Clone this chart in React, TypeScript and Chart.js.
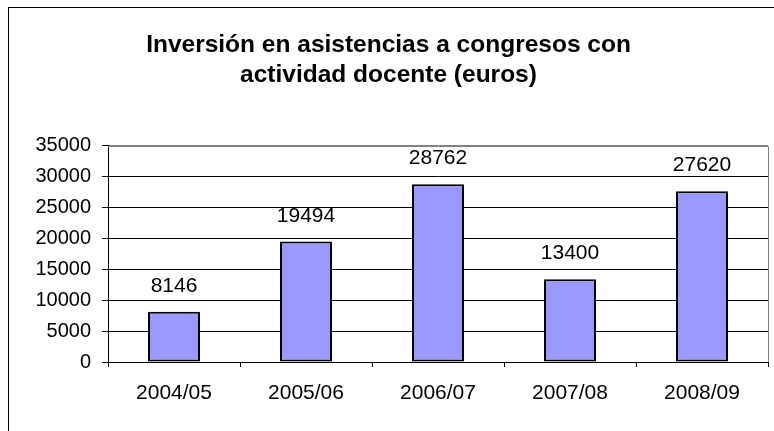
import React, { useEffect, useRef } from "react";
import { Chart, registerables } from "chart.js";

Chart.register(...registerables);

const categories = ["2004/05", "2005/06", "2006/07", "2007/08", "2008/09"];
const values = [8146, 19494, 28762, 13400, 27620];
const titleLines = ["Inversión en asistencias a congresos con", "actividad docente (euros)"];
const yMin = 0;
const yMax = 35000;
const yStep = 5000;

const FONT = "'Liberation Sans', Arial, Helvetica, sans-serif";

const frameAndLabels = {
  id: "frameAndLabels",
  afterDraw(chart: any) {
    const { ctx, width, height } = chart;
    ctx.save();
    ctx.fillStyle = "#000";
    ctx.fillRect(0, 0, 1, height);
    ctx.fillRect(0, 0, width, 1);
    ctx.restore();
  },
  afterDatasetsDraw(chart: any) {
    const { ctx, chartArea } = chart;
    ctx.save();
    ctx.strokeStyle = "#808080";
    ctx.lineWidth = 1;
    ctx.beginPath();
    ctx.moveTo(chartArea.left, Math.round(chartArea.top) + 0.5);
    ctx.lineTo(Math.round(chartArea.right) + 0.5, Math.round(chartArea.top) + 0.5);
    ctx.lineTo(Math.round(chartArea.right) + 0.5, chartArea.bottom);
    ctx.stroke();
    const meta = chart.getDatasetMeta(0);
    ctx.fillStyle = "#000";
    ctx.font = `21px ${FONT}`;
    ctx.textAlign = "center";
    ctx.textBaseline = "alphabetic";
    meta.data.forEach((bar: any, i: number) => {
      const v = chart.data.datasets[0].data[i];
      ctx.fillText(String(v), bar.x, bar.y - 20);
    });
    ctx.restore();
  },
};

export default function App() {
  const ref = useRef<HTMLCanvasElement>(null);
  useEffect(() => {
    if (!ref.current) return;
    const chart = new Chart(ref.current, {
      type: "bar",
      data: {
        labels: categories,
        datasets: [
          {
            data: values,
            backgroundColor: "#9999FF",
            borderColor: "#000000",
            borderWidth: 2,
            borderSkipped: false,
            barPercentage: 0.394,
            categoryPercentage: 1,
          },
        ],
      },
      options: {
        responsive: false,
        animation: false,
        devicePixelRatio: 1,
        layout: { padding: { left: 1, right: 6, top: 1, bottom: 0 } },
        plugins: {
          legend: { display: false },
          tooltip: { enabled: false },
          title: {
            display: true,
            text: titleLines,
            color: "#000",
            font: { family: FONT, size: 24.5, weight: "bold", lineHeight: 1.22 },
            padding: { top: 22, bottom: 56 },
          },
        },
        scales: {
          x: {
            offset: true,
            grid: {
              offset: true,
              drawOnChartArea: false,
              drawTicks: true,
              tickLength: 5,
              color: "#000",
            },
            border: { display: true, color: "#000", width: 1 },
            ticks: {
              color: "#000",
              font: { family: FONT, size: 21 },
              padding: 14,
              maxRotation: 0,
            },
            afterFit(scale: any) {
              scale.height = 69;
            },
          },
          y: {
            min: yMin,
            max: yMax,
            grid: {
              color: (c: any) => (c.tick && c.tick.value === yMax ? "#808080" : "#000"),
              tickColor: "#000",
              tickLength: 6,
              drawTicks: true,
            },
            border: { display: true, color: "#000", width: 1 },
            ticks: {
              stepSize: yStep,
              color: "#000",
              font: { family: FONT, size: 20 },
              padding: 11,
              callback: (v: any) => String(v),
            },
            afterFit(scale: any) {
              scale.width = 99;
            },
          },
        },
      },
      plugins: [frameAndLabels],
    });
    return () => chart.destroy();
  }, []);

  return (
    <div style={{ position: "fixed", top: 7, left: 8 }}>
      <canvas ref={ref} width={766} height={424} style={{ display: "block" }} />
    </div>
  );
}
